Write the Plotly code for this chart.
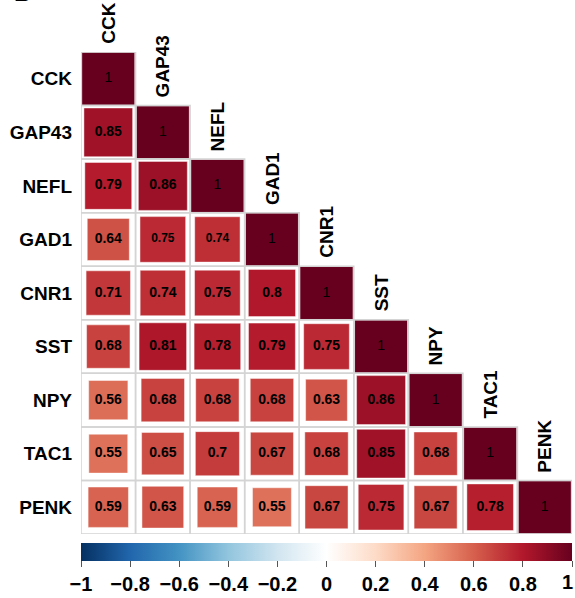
import numpy as np
import plotly.graph_objects as go

# Gene names (rows top-to-bottom, columns left-to-right)
genes = ["CCK", "GAP43", "NEFL", "GAD1", "CNR1", "SST", "NPY", "TAC1", "PENK"]

# Lower-triangle Pearson correlations, one list per row (diagonal included)
r_CCK = [1]
r_GAP43 = [0.85, 1]
r_NEFL = [0.79, 0.86, 1]
r_GAD1 = [0.64, 0.75, 0.74, 1]
r_CNR1 = [0.71, 0.74, 0.75, 0.8, 1]
r_SST = [0.68, 0.81, 0.78, 0.79, 0.75, 1]
r_NPY = [0.56, 0.68, 0.68, 0.68, 0.63, 0.86, 1]
r_TAC1 = [0.55, 0.65, 0.7, 0.67, 0.68, 0.85, 0.68, 1]
r_PENK = [0.59, 0.63, 0.59, 0.55, 0.67, 0.75, 0.67, 0.78, 1]
rows = [r_CCK, r_GAP43, r_NEFL, r_GAD1, r_CNR1, r_SST, r_NPY, r_TAC1, r_PENK]

colorbar_ticks = [-1, -0.8, -0.6, -0.4, -0.2, 0, 0.2, 0.4, 0.6, 0.8, 1]

# Diverging palette (blue -> white -> dark red)
rdbu = ["#053061", "#2166AC", "#4393C3", "#92C5DE", "#D1E5F0", "#FFFFFF",
        "#FDDBC7", "#F4A582", "#D6604D", "#B2182B", "#67001F"]
colorscale = [[i / (len(rdbu) - 1), c] for i, c in enumerate(rdbu)]

W, H = 575, 598
M_L, M_R, M_T, M_B = 81, 3, 52, 56
n = len(genes)
plot_w, plot_h = W - M_L - M_R, H - M_T - M_B
cell_px = min(plot_w / n, plot_h / n)
FONT = "Arial, 'Liberation Sans', sans-serif"
CB_FONT = dict(family=FONT, size=20, color="black", weight="bold")

xs, ys, vals, sizes, texts, tsizes = [], [], [], [], [], []
for i, row in enumerate(rows):
    for j, v in enumerate(row):
        xs.append(j)
        ys.append(i)
        vals.append(v)
        # square area proportional to |r|
        sizes.append(np.sqrt(abs(v)) * cell_px - 1.5)
        if i == j:
            texts.append(f"{v:g}")
        else:
            texts.append(f"<b>{v:g}</b>")
        tsizes.append(12 if (i == 3 and j in (1, 2)) else 14)

# colorbar labels with true minus signs; the end label is placed separately
# so it stays inside the page edge
cb_text = [f"{t:g}".replace("-", "\u2212") for t in colorbar_ticks]
end_label = cb_text[-1]
cb_text[-1] = ""

fig = go.Figure()
fig.add_trace(go.Scatter(
    x=xs, y=ys, mode="markers+text",
    text=texts, textposition="middle center",
    textfont=dict(family=FONT, size=tsizes, color="black"),
    marker=dict(
        symbol="square", size=sizes, color=vals, opacity=1,
        colorscale=colorscale, cmin=-1, cmax=1,
        line=dict(color="rgba(255,255,255,0.45)", width=1),
        colorbar=dict(
            orientation="h", x=0.5, xanchor="center",
            y=-9 / plot_h, yanchor="top",
            len=1, lenmode="fraction", thickness=18,
            xpad=0, ypad=0, outlinewidth=0,
            tickvals=colorbar_ticks, ticktext=cb_text,
            ticks="outside", ticklen=6, tickcolor="#555",
            ticklabeloverflow="allow",
            tickfont=CB_FONT,
        ),
    ),
    hoverinfo="skip", showlegend=False,
))

fig.add_annotation(x=1 + 2 / plot_w, y=-41 / plot_h, yshift=-8,
                   xref="paper", yref="paper",
                   text=end_label, xanchor="right", yanchor="middle",
                   showarrow=False, borderpad=0, font=CB_FONT)

# cell grid for the lower triangle
for i in range(n):
    for j in range(i + 1):
        fig.add_shape(type="rect", x0=j - 0.5, x1=j + 0.5, y0=i - 0.5, y1=i + 0.5,
                      line=dict(color="#d4d4d4", width=1.5), layer="above")

# column labels above each diagonal cell
for k, g in enumerate(genes):
    fig.add_annotation(x=k, y=k - 0.5, text=f"<b>{g}</b>", textangle=-90,
                       showarrow=False, xanchor="center", yanchor="bottom",
                       yshift=6, font=dict(family=FONT, size=19, color="black"))

# panel letter, mostly above the page edge
fig.add_annotation(x=(22 - M_L) / plot_w, y=1 + (M_T - 7) / plot_h,
                   xref="paper", yref="paper", text="<b>B</b>",
                   xanchor="center", yanchor="bottom", showarrow=False,
                   font=dict(family=FONT, size=24, color="black"))

fig.update_layout(
    width=W, height=H,
    margin=dict(l=M_L, r=M_R, t=M_T, b=M_B),
    paper_bgcolor="white", plot_bgcolor="white",
    xaxis=dict(range=[-0.5, n - 0.5], showgrid=False, zeroline=False,
               showticklabels=False, ticks="", fixedrange=True),
    yaxis=dict(range=[n - 0.5, -0.5], showgrid=False, zeroline=False,
               tickvals=list(range(n)), ticktext=genes, ticks="",
               ticklabelstandoff=8,
               tickfont=dict(family=FONT, size=19, color="black", weight="bold")),
)
fig.write_html("out.html")
